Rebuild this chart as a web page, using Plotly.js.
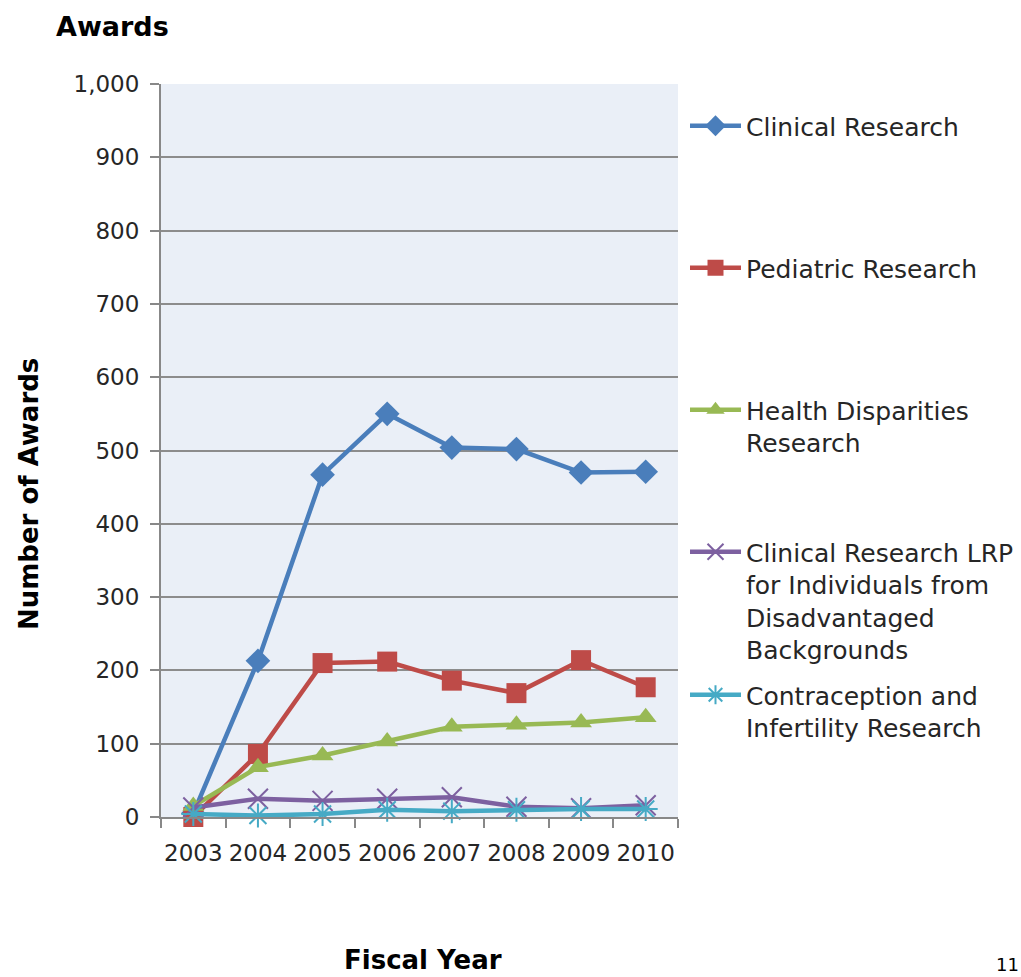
<!DOCTYPE html>
<html>
<head>
<meta charset="utf-8">
<script src="https://cdn.plot.ly/plotly-3.0.1.min.js"></script>
<style>html,body{margin:0;padding:0;background:#fff;}#chart{width:1021px;height:977px;}</style>
</head>
<body>
<div id="chart"></div>
<script>
const years = ['2003','2004','2005','2006','2007','2008','2009','2010'];
const clinical = [5, 213, 467, 550, 504, 502, 470, 471];
const pediatric = [0, 86, 210, 212, 186, 169, 214, 177];
const healthDisparities = [15, 68, 84, 103, 123, 126, 129, 136];
const lrpDisadvantaged = [13, 25, 22, 25, 27, 14, 12, 16];
const contraception = [4, 2, 4, 10, 8, 10, 11, 11];
const seriesNames = [
  'Clinical Research',
  'Pediatric Research',
  'Health Disparities<br>Research',
  'Clinical Research LRP<br>for Individuals from<br>Disadvantaged<br>Backgrounds',
  'Contraception and<br>Infertility Research'
];
const yTickVals = [0,100,200,300,400,500,600,700,800,900,1000];

const colors = ['#4A7EBB','#BE4B48','#98B954','#7D60A0','#46AAC5'];
const symbols = ['diamond','square','triangle-up','x-thin-open','asterisk-open'];
const sizes = [19, 20, 19, 20, 20];
const data = [clinical, pediatric, healthDisparities, lrpDisadvantaged, contraception];
const legendIds = ['legend','legend2','legend3','legend4','legend5'];

const traces = data.map((vals, i) => ({
  type: 'scatter', mode: 'lines+markers',
  x: years, y: vals, name: seriesNames[i],
  legend: legendIds[i],
  line: {color: colors[i], width: 4.5},
  marker: {symbol: symbols[i], size: sizes[i], color: colors[i],
           line: {color: colors[i], width: (i >= 3 ? 2 : 0)}},
  cliponaxis: false
}));

const H = 733, bottom = 817;
function py(p){ return (bottom - p) / H; }
function px(p){ return (p - 161) / 517; }

const legendTops = [103, 245, 387, 529, 672];
const legendFont = {family: 'DejaVu Sans', size: 25, color: '#262626'};
const layout = {
  width: 1021, height: 977,
  margin: {l: 161, r: 343, t: 84, b: 160, autoexpand: false},
  paper_bgcolor: '#ffffff',
  plot_bgcolor: '#EAEFF7',
  font: {family: 'DejaVu Sans', color: '#262626'},
  showlegend: true,
  xaxis: {
    type: 'category', tickson: 'boundaries', tickangle: 0,
    ticks: 'outside', ticklen: 9, tickcolor: '#888888', tickwidth: 2,
    ticklabelstandoff: 14,
    showline: true, linecolor: '#888888', linewidth: 2,
    showgrid: false, zeroline: false,
    tickfont: {family: 'DejaVu Sans', size: 23, color: '#262626'},
    range: [-0.5, 7.5], fixedrange: true
  },
  yaxis: {
    range: [0, 1000], tickvals: yTickVals, tickformat: ',d',
    ticks: 'outside', ticklen: 9, tickcolor: '#888888', tickwidth: 2,
    ticklabelstandoff: 6,
    showline: true, linecolor: '#888888', linewidth: 2,
    showgrid: true, gridcolor: '#8C8C8C', gridwidth: 2,
    zeroline: false,
    tickfont: {family: 'DejaVu Sans', size: 23, color: '#262626'},
    fixedrange: true
  },
  annotations: [
    {text: '<b>Awards</b>', xref: 'paper', yref: 'paper', x: px(54), y: py(27),
     xanchor: 'left', yanchor: 'middle', showarrow: false,
     font: {family: 'DejaVu Sans', size: 27, color: '#000000'}},
    {text: '<b>Number of Awards</b>', xref: 'paper', yref: 'paper', x: px(29), y: py(494),
     xanchor: 'center', yanchor: 'middle', textangle: -90, showarrow: false,
     font: {family: 'DejaVu Sans', size: 26, color: '#000000'}},
    {text: '<b>Fiscal Year</b>', xref: 'paper', yref: 'paper', x: px(423), y: py(960),
     xanchor: 'center', yanchor: 'middle', showarrow: false,
     font: {family: 'DejaVu Sans', size: 26, color: '#000000'}},
    {text: '11', xref: 'paper', yref: 'paper', x: px(1021), y: py(964),
     xanchor: 'right', yanchor: 'middle', showarrow: false,
     font: {family: 'DejaVu Sans', size: 18, color: '#000000'}}
  ]
};
legendIds.forEach((id, i) => {
  layout[id] = {
    x: px(685), y: py(legendTops[i]), xanchor: 'left', yanchor: 'top',
    bgcolor: 'rgba(0,0,0,0)', borderwidth: 0, font: legendFont,
    valign: 'top', itemwidth: 51
  };
});

Plotly.newPlot('chart', traces, layout, {displayModeBar: false, staticPlot: true});
</script>
</body>
</html>
